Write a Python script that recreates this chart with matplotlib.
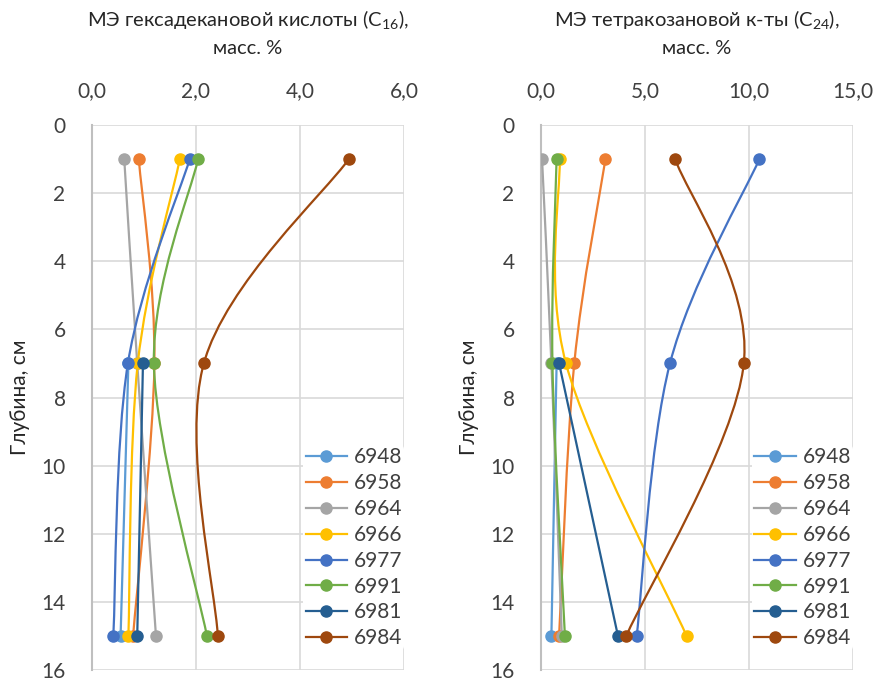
import numpy as np
import matplotlib
matplotlib.use("Agg")
import matplotlib.pyplot as plt
from matplotlib.path import Path
from matplotlib.patches import PathPatch
from matplotlib.lines import Line2D

plt.rcParams['font.family'] = ['Lato', 'DejaVu Sans']
plt.rcParams['mathtext.fontset'] = 'custom'
plt.rcParams['mathtext.rm'] = 'Lato'
plt.rcParams['mathtext.it'] = 'Lato'

depths = [1, 7, 15]
samples = ['6948', '6958', '6964', '6966', '6977', '6991', '6981', '6984']
colors = ['#5B9BD5', '#ED7D31', '#A5A5A5', '#FFC000', '#4472C4', '#70AD47', '#255E91', '#9E480E']

# C16 methyl ester, mass %
c16 = {
    '6948': [np.nan, 0.70, 0.55],
    '6958': [0.90, 1.20, 0.79],
    '6964': [0.62, 0.87, 1.23],
    '6966': [1.69, 0.88, 0.70],
    '6977': [1.88, 0.69, 0.41],
    '6991': [2.04, 1.19, 2.21],
    '6981': [np.nan, 0.98, 0.87],
    '6984': [4.94, 2.15, 2.42],
}
# C24 methyl ester, mass %
c24 = {
    '6948': [np.nan, 0.75, 0.50],
    '6958': [3.10, 1.60, 0.87],
    '6964': [0.05, 0.50, 1.00],
    '6966': [0.90, 1.20, 7.00],
    '6977': [10.50, 6.20, 4.60],
    '6991': [0.75, 0.55, 1.15],
    '6981': [np.nan, 0.87, 3.70],
    '6984': [6.45, 9.75, 4.10],
}


def smooth_path(x, y):
    # Excel-like smoothed line: cubic bezier through points (Catmull-Rom tangents)
    p = np.column_stack([x, y])
    verts = [p[0]]
    codes = [Path.MOVETO]
    n = len(p)
    for i in range(n - 1):
        prev = p[i - 1] if i > 0 else p[i]
        nxt = p[i + 2] if i + 2 < n else p[i + 1]
        c1 = p[i] + (p[i + 1] - prev) / 6.0
        c2 = p[i + 1] - (nxt - p[i]) / 6.0
        verts += [c1, c2, p[i + 1]]
        codes += [Path.CURVE4] * 3
    return Path(verts, codes)


def draw_panel(ax, data, xmax, xstep, title):
    for name, col in zip(samples, colors):
        vals = np.array(data[name], dtype=float)
        d = np.array(depths, dtype=float)
        ok = ~np.isnan(vals)
        ax.add_patch(PathPatch(smooth_path(vals[ok], d[ok]), facecolor='none',
                               edgecolor=col, lw=1.6, zorder=3))
        ax.plot(vals[ok], d[ok], 'o', color=col, ms=8, zorder=4)
    ax.set_xlim(0, xmax)
    ax.set_ylim(16, 0)
    ticks = np.arange(0, xmax + 0.01, xstep)
    ax.set_xticks(ticks)
    ax.set_xticklabels([f'{v:.1f}'.replace('.', ',') for v in ticks])
    ax.set_yticks(range(0, 17, 2))
    ax.xaxis.tick_top()
    ax.xaxis.set_label_position('top')
    ax.set_xlabel(title, fontsize=14.5, labelpad=20, color='#262626', linespacing=1.6)
    ax.set_ylabel('Глубина, см', fontsize=15, color='#262626', labelpad=8)
    ax.tick_params(length=0, labelsize=15, colors='#404040')
    ax.tick_params(axis='x', pad=17)
    ax.tick_params(axis='y', pad=19)
    ax.grid(True, color='#D9D9D9', lw=1.2)
    ax.set_axisbelow(True)
    for s in ['top', 'right', 'bottom']:
        ax.spines[s].set_visible(False)
    ax.spines['left'].set_color('#BFBFBF')
    ax.spines['left'].set_linewidth(1.5)
    handles = [Line2D([], [], color=c, lw=1.6, marker='o', ms=8) for c in colors]
    leg = ax.legend(handles, samples, loc='lower right', bbox_to_anchor=(1.0, 0.036),
                    frameon=True, fontsize=15, handlelength=2.0, handletextpad=0.3,
                    labelspacing=0.28, borderpad=0.1, borderaxespad=0.0)
    leg.get_frame().set_facecolor('white')
    leg.get_frame().set_edgecolor('none')
    leg.get_frame().set_alpha(1)
    for t in leg.get_texts():
        t.set_color('#404040')


fig = plt.figure(figsize=(8.76, 6.81), dpi=100)
ax1 = fig.add_axes([92 / 876, 11 / 681, 312 / 876, 545 / 681])
ax2 = fig.add_axes([541 / 876, 11 / 681, 312 / 876, 545 / 681])

draw_panel(ax1, c16, 6.0, 2.0, 'МЭ гексадекановой кислоты (C$_{16}$),\nмасс. %')
draw_panel(ax2, c24, 15.0, 5.0, 'МЭ тетракозановой к-ты (C$_{24}$),\nмасс. %')

fig.savefig('out.png', dpi=100)
